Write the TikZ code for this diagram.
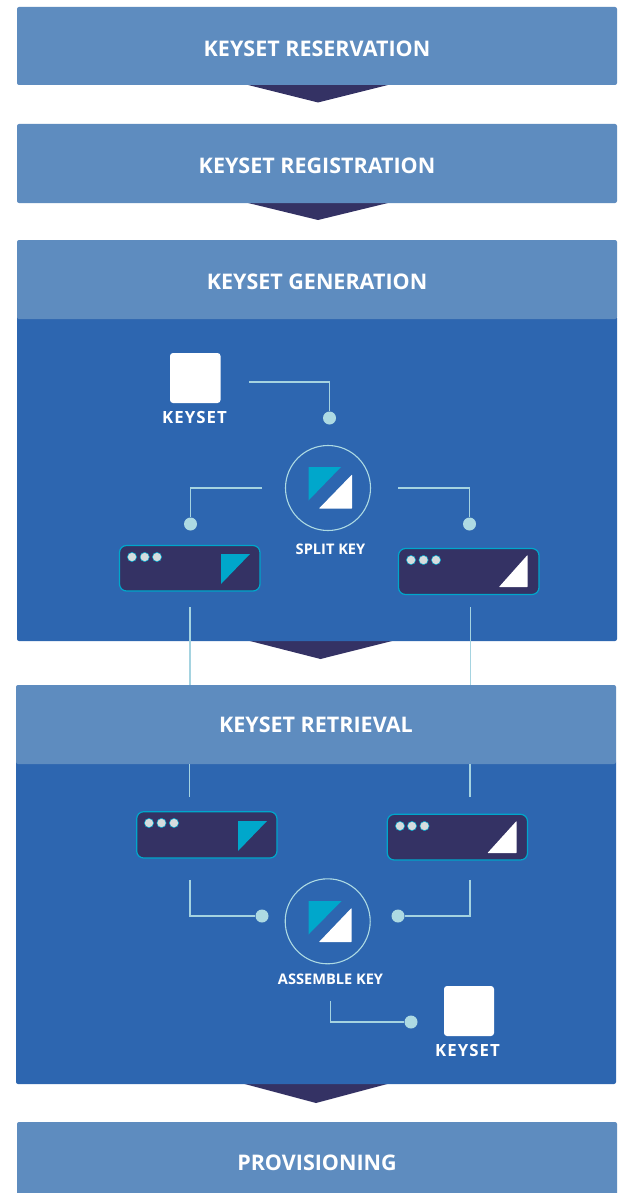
\documentclass[tikz,border=0pt]{standalone}
\usepackage{fontspec}
\setmainfont{Open Sans}
\definecolor{headblue}{HTML}{5E8CBF}
\definecolor{bodyblue}{HTML}{2D66B0}
\definecolor{darknavy}{HTML}{343264}
\definecolor{tealkey}{HTML}{00A7CB}
\definecolor{lightdot}{HTML}{ADDAE3}
\definecolor{lightline}{HTML}{A5D3E0}
\definecolor{greydot}{HTML}{D6DCDE}
\tikzset{
  x=1pt,y=-1pt,
  panel/.style={fill=#1,rounded corners=2pt,draw=none},
  headtext/.style={text=white,font=\bfseries\fontsize{21.5}{26}\selectfont,inner sep=0pt},
  smalltext/.style={text=white,font=\bfseries\fontsize{14.6}{18}\selectfont,inner sep=0pt},
  keytext/.style={text=white,font=\bfseries\fontsize{16.8}{20}\selectfont\addfontfeatures{LetterSpace=6.5},inner sep=0pt},
  wire/.style={draw=lightline,line width=1.2pt},
  enddot/.style={circle,fill=lightdot,minimum size=13pt,inner sep=0pt,draw=none},
  ring/.style={circle,draw=lightdot,line width=1.1pt,minimum size=85pt,inner sep=0pt},
  keysquare/.style={fill=white,rounded corners=3pt,draw=none},
  sharebox/.style={fill=darknavy,draw=tealkey,line width=1.2pt,rounded corners=7pt},
  tinydot/.style={circle,fill=greydot,draw=tealkey,line width=.5pt,minimum size=9.2pt,inner sep=0pt},
  pointer/.style={fill=darknavy,draw=none},
  tealtri/.style={fill=tealkey,draw=none},
  whitetri/.style={fill=white,draw=none,rounded corners=.5pt},
}
\newcommand{\boxnode}[6]{% name, x0, y0, x1, y1, style
  \path[#6] (#2,#3) rectangle (#4,#5);
  \coordinate (#1) at ({(#2+#4)/2},{(#3+#5)/2});
}
\begin{document}
\begin{tikzpicture}
\useasboundingbox (0,0) rectangle (622,1193);
\fill[white] (0,0) rectangle (622,1193);

% pointers
\path[pointer] (244,84) -- (392,84) -- (318,102.5) -- cycle;
\path[pointer] (244,202) -- (392,202) -- (318,220) -- cycle;
\path[pointer] (246,640) -- (396,640) -- (320.5,659) -- cycle;
\path[pointer] (241,1083) -- (391,1083) -- (316,1103) -- cycle;

% generation / retrieval bodies
\boxnode{genbody}{17}{316}{617}{641}{panel=bodyblue}
\boxnode{retbody}{16}{760}{616}{1084}{panel=bodyblue}

% wires between the two stages
\coordinate (genL) at (190,607);
\coordinate (genR) at (470.5,607);
\coordinate (retTL) at (190,690);
\coordinate (retTR) at (470.5,690);
\draw[wire] (genL) -- (retTL);
\draw[wire] (genR) -- (retTR);

% headers
\boxnode{h1}{17}{7}{617}{85}{panel=headblue}
\boxnode{h2}{17}{124}{617}{203}{panel=headblue}
\boxnode{h3}{17}{240}{617}{319}{panel=headblue}
\boxnode{h4}{16}{685}{616}{764}{panel=headblue}
\boxnode{h5}{17}{1122}{617}{1200}{panel=headblue}
\node[headtext] (t1) at (317,48.8) {KEYSET RESERVATION};
\node[headtext] (t2) at (317,165.8) {KEYSET REGISTRATION};
\node[headtext] (t3) at (317,281.8) {KEYSET GENERATION};
\node[headtext] (t4) at (316,724.8) {KEYSET RETRIEVAL};
\node[headtext] (t5) at (317,1162.8) {PROVISIONING};

% --- generation ---
\boxnode{keyA}{170}{353}{220.5}{403}{keysquare}
\node[keytext] (keyAt) at (194.5,417) {KEYSET};
\node[ring] (splitring) at (328,488) {};
\path[tealtri] (308.5,467) -- (341,467) -- (308.5,500.5) -- cycle;
\path[whitetri] (352,474.5) -- (352,508.5) -- (319,508.5) -- cycle;
\node[smalltext] (splitt) at (330.5,549) {SPLIT KEY};
\node[enddot] (dA) at (329.5,418) {};
\node[enddot] (dB) at (190.5,524) {};
\node[enddot] (dC) at (469.5,524) {};
\coordinate (wA) at (249,382);
\coordinate (wB) at (262,488);
\coordinate (wC) at (398,488);
\draw[wire] (wA) -| (dA);
\draw[wire] (wB) -| (dB);
\draw[wire] (wC) -| (dC);
\boxnode{shareA}{119.5}{545.5}{260}{591}{sharebox}
\foreach \i/\px in {a/132,b/144.7,c/157}{\node[tinydot] (sa\i) at (\px,557) {};}
\path[tealtri] (221,554) -- (250,554) -- (221,584) -- cycle;
\boxnode{shareB}{398.5}{548.5}{539}{594.5}{sharebox}
\foreach \i/\px in {a/411,b/423.5,c/436}{\node[tinydot] (sb\i) at (\px,560) {};}
\path[whitetri] (527.5,555) -- (527.5,587) -- (499,587) -- cycle;

% --- retrieval ---
\coordinate (rA) at (189.5,764);
\coordinate (rAe) at (189.5,797);
\coordinate (rB) at (470,764);
\coordinate (rBe) at (470,797);
\draw[wire] (rA) -- (rAe);
\draw[wire] (rB) -- (rBe);
\boxnode{shareC}{136.7}{811.7}{277}{858}{sharebox}
\foreach \i/\px in {a/149,b/161.5,c/174}{\node[tinydot] (sc\i) at (\px,823) {};}
\path[tealtri] (238,821) -- (267,821) -- (238,851) -- cycle;
\boxnode{shareD}{387.3}{814.3}{527.5}{860}{sharebox}
\foreach \i/\px in {a/400,b/412,c/424.5}{\node[tinydot] (sd\i) at (\px,826) {};}
\path[whitetri] (516.5,821) -- (516.5,853) -- (487.5,853) -- cycle;
\node[ring] (asmring) at (327.7,921.3) {};
\path[tealtri] (308.5,901) -- (341.5,901) -- (308.5,934.5) -- cycle;
\path[whitetri] (351.5,908) -- (351.5,942) -- (319,942) -- cycle;
\node[smalltext] (asmt) at (330.5,979) {ASSEMBLE KEY};
\node[enddot] (dD) at (262,916) {};
\node[enddot] (dE) at (398,916) {};
\node[enddot] (dF) at (411,1022) {};
\coordinate (wD) at (190,880);
\coordinate (wE) at (470,880);
\coordinate (wF) at (330.5,1001);
\draw[wire] (wD) |- (dD);
\draw[wire] (wE) |- (dE);
\draw[wire] (wF) |- (dF);
\boxnode{keyB}{444}{986}{494}{1036}{keysquare}
\node[keytext] (keyBt) at (467.5,1050) {KEYSET};
\end{tikzpicture}
\end{document}
